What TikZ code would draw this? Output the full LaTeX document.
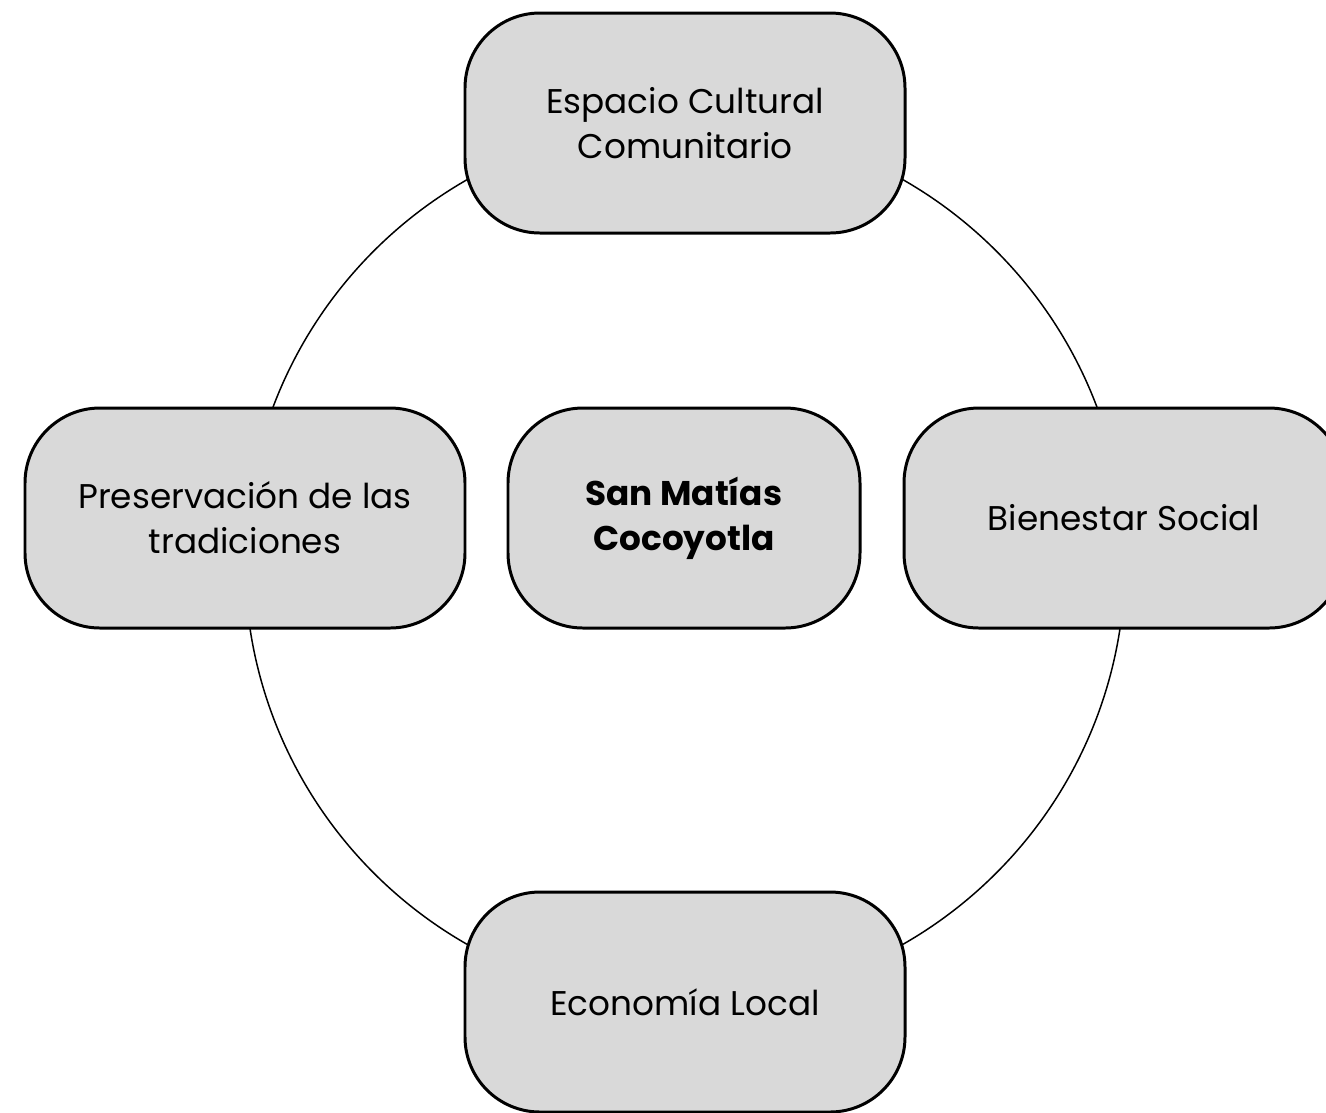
\documentclass[tikz,border=0pt]{standalone}
\usepackage{fontspec}
\setmainfont{Poppins}
\definecolor{boxgray}{RGB}{217,217,217}
\tikzset{
  topic/.style={draw=black, line width=1.7pt, fill=boxgray, rounded corners=1.5cm,
    minimum width=8.8cm, minimum height=4.4cm, align=center,
    font=\fontsize{19.5}{25.5}\selectfont},
  hubbox/.style={topic, minimum width=7.04cm, font=\fontsize{19.5}{25.5}\selectfont\bfseries},
  ring/.style={line width=0.85pt}
}
\begin{document}
\begin{tikzpicture}
  \useasboundingbox (0,0) rectangle (26.52,-22.24);
  \clip (0,0) rectangle (26.52,-22.24);
  \coordinate (c) at (13.7,-11.24);
  \draw[ring] (c) circle (8.8);
  \draw
    (13.7,-2.46) node[topic] (esp){Espacio Cultural\\Comunitario}
    (4.9,-10.36) node[topic] (pre){Preservación de las\\tradiciones}
    (13.68,-10.36) node[hubbox] (san){San Matías\\Cocoyotla}
    (22.48,-10.36) node[topic] (bie){Bienestar Social}
    (13.7,-20.04) node[topic] (eco){Economía Local};
\end{tikzpicture}
\end{document}
